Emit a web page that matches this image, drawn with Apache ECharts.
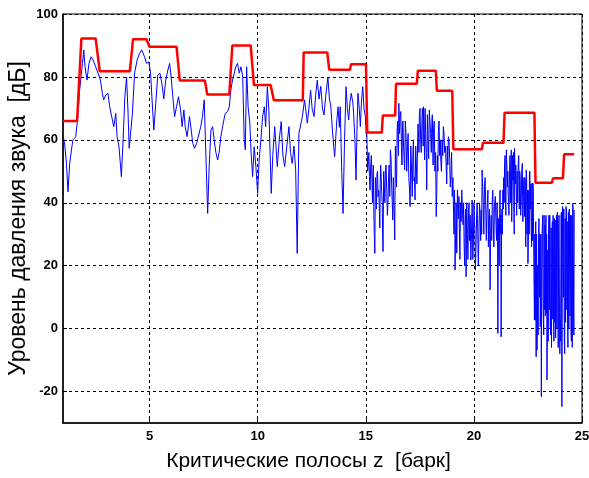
<!DOCTYPE html>
<html>
<head>
<meta charset="utf-8">
<script src="https://cdn.jsdelivr.net/npm/echarts@6/dist/echarts.min.js"></script>
<style>html,body{margin:0;padding:0;background:#fff;}#c{width:589px;height:478px;}</style>
</head>
<body>
<div id="c"></div>
<script>
// ---- data ----
const xTicks = [5, 10, 15, 20, 25];
const yTicks = [-20, 0, 20, 40, 60, 80, 100];

// masking threshold (red step line)
const threshZ = [1.00, 1.65, 1.85, 2.51, 2.70, 4.09, 4.24, 4.86, 5.00, 6.25, 6.40, 7.56, 7.67, 8.69, 8.83, 9.68, 9.83, 10.60, 10.75,
  12.09, 12.13, 13.22, 13.31, 14.27, 14.32, 15.01, 15.07, 15.74, 15.79, 16.36, 16.40, 17.36, 17.41, 18.24, 18.29, 19.00, 19.05,
  20.37, 20.42, 21.37, 21.42, 22.80, 22.85, 23.61, 23.66, 24.12, 24.17, 24.64];
const threshLevel = [66, 66, 92.2, 92.2, 81.8, 81.8, 92, 92, 89.6, 89.6, 78.9, 78.9, 74.4, 74.4, 90, 90, 77.4, 77.4, 72.6,
  72.6, 87.8, 87.8, 82.3, 82.3, 84, 84, 62.3, 62.3, 67.7, 67.7, 77.8, 77.8, 82, 82, 75.6, 75.6, 57,
  57, 59.1, 59.1, 68.6, 68.6, 46.4, 46.4, 47.8, 47.8, 55.4, 55.4];

// sound pressure level spectrum (blue), main samples
const specZ = [1.00,1.08,1.16,1.23,1.31,1.39,1.46,1.59,1.67,1.77,1.90,1.96,2.02,2.11,2.20,2.30,2.39,2.51,2.62,2.73,2.82,2.88,2.98,3.08,3.16,3.25,3.35,3.44,3.50,3.59,3.70,3.78,3.86,3.94,4.01,4.06,4.12,4.21,4.31,4.43,4.54,4.64,4.77,4.86,4.97,5.05,5.11,5.20,5.29,5.38,5.48,5.57,5.66,5.75,5.85,5.93,6.00,6.08,6.16,6.25,6.34,6.44,6.51,6.59,6.65,6.74,6.85,6.93,7.00,7.08,7.18,7.27,7.37,7.45,7.53,7.61,7.69,7.76,7.84,7.92,7.99,8.07,8.15,8.22,8.30,8.38,8.50,8.61,8.69,8.76,8.84,8.92,8.99,9.07,9.15,9.23,9.31,9.38,9.43,9.49,9.56,9.64,9.70,9.77,9.84,9.92,10.00,10.07,10.15,10.23,10.31,10.37,10.45,10.52,10.63,10.70,10.79,10.91,11.00,11.09,11.17,11.25,11.35,11.45,11.52,11.60,11.68,11.76,11.83,11.91,12.07,12.17,12.30,12.37,12.45,12.52,12.61,12.68,12.76,12.84,12.92,13.00,13.07,13.15,13.25,13.32,13.38,13.47,13.56,13.59,13.65,13.72,13.78,13.82,13.89,13.95,14.02,14.09,14.15,14.21,14.27,14.33,14.40,14.44,14.50,14.55,14.60,14.64,14.70,14.75,14.80,14.86,14.92,14.98,15.02,15.06,15.12,15.17,15.23,15.29,15.33,15.37,15.42,15.47,15.52,15.57,15.63,15.67,15.71,15.76,15.80,15.86,15.91,15.97,16.03,16.08,16.14,16.20,16.25,16.30,16.34,16.40,16.45,16.50,16.53,16.59,16.65,16.70,16.74,16.80,16.86,16.93,16.99,17.05,17.12,17.18,17.23,17.28,17.34,17.39,17.44,17.48,17.54,17.59,17.64,17.67,17.72,17.77,17.82,17.88,17.94,18.00,18.06,18.10,18.13,18.20,18.26,18.31,18.36,18.42,18.47,18.53,18.59,18.65,18.72,18.77,18.82,18.88,18.94,19.00,19.06,19.10,19.13,19.18,19.24,19.29,19.33,19.38,19.44,19.50,19.55,19.60,19.64,19.70,19.75,19.80,19.86,19.92,19.98,20.03,20.07,20.12,20.18,20.23,20.29,20.34,20.38,20.43,20.49,20.55,20.60,20.65,20.69,20.75,20.80,20.85,20.90,20.95,21.03,21.07,21.11,21.15,21.19,21.23,21.26,21.30,21.34,21.38,21.42,21.46,21.50,21.55,21.59,21.65,21.69,21.73,21.77,21.81,21.85,21.88,21.92,21.96,22.00,22.05,22.10,22.14,22.19,22.24,22.29,22.34,22.38,22.42,22.46,22.50,22.54,22.57,22.61,22.65,22.69,22.73,22.76,22.80,22.84,22.88,22.92,22.95,22.99,23.03,23.07,23.10,23.12,23.16,23.20,23.26,23.29,23.32,23.35,23.38,23.42,23.45,23.49,23.53,23.57,23.61,23.65,23.68,23.72,23.76,23.80,23.84,23.88,23.92,23.96,23.99,24.03,24.07,24.10,24.14,24.18,24.22,24.26,24.30,24.33,24.37,24.41,24.45,24.49,24.53,24.57,24.61,24.64];
const specLevel = [61.5,58.4,52.5,43.5,52.5,56.8,60,61,66.3,75.8,84.3,88.6,83.2,79,84.3,86.4,85.4,83.2,81.2,79,74.8,72.7,74.3,74.8,70.5,67.4,64.2,68.4,61,57.8,48.3,60,73.7,80,68.4,57.3,56.8,68.4,81.2,85.4,87.5,88.6,86.4,84.3,84.8,81.2,73.7,63.1,71.6,80.6,81.2,78,73,79,82.2,84.3,80,73.7,67.4,70.5,73.7,69.5,64.2,69.5,64.2,61,67.4,63.1,58.9,57.3,58.9,58.9,64.2,67.4,72.7,54.6,36.6,51.5,63.1,64.2,60,56,53.6,56,61,64.2,68.4,69,70.5,75.8,79,81.2,83.2,84.3,81.2,83.2,80,60,56.8,83.2,70.5,65.3,55.7,48.3,57.8,51.5,43,53.6,60,67.4,70.5,64.2,76.9,69.5,43,55,64.2,51.5,60,65.8,55,51.5,58,64.2,56,52.5,58,50.4,23.9,62.1,67.4,72.7,65.3,70,75.8,70,67.4,74,79,73,77,70,67.9,74,79.9,73,71.1,62,54.6,57.8,65,70.5,64,70.5,50,36.6,60,76.9,70,66.3,72,74.8,72,68.4,60,47.2,65,74.8,70,64.2,72,76.9,70,67.4,62,58.9,53,48.3,52,46.2,49,38.8,23.9,45,49.3,42,37.7,46,48.8,40,24.5,45,50.4,44,40.9,52,56.8,45,34.5,40,28.2,50,63.1,58,71.6,67.4,57.8,64,60,50.4,62,57.8,48,38.8,50,55.8,47,40.9,52,55.8,62,68.4,60,63.1,68,70.5,53.6,62,44.1,60,69.5,62,66.3,58,62.1,50,35.6,55,63.1,55,53.6,60,64.2,56,51.5,58,61,54,49.4,42,36.6,44,18.6,40,44.1,35,31.3,40,44.1,33,26,35,16.5,30,36.6,28,21.8,40.9,28.2,34,18.6,34.5,30,28.2,36,37.7,50.4,40,45.1,38,36.6,44,34.5,12.3,36,40.9,32,38.8,31.3,40,-1.5,35,36.6,30,-2.6,38,44.1,48,52.5,42,56.8,45,41.9,50.4,40,56.8,44,47.2,38,57.3,46,41.9,50,52.5,38,48.3,40,52.5,42,35.6,46,50.4,30,20.7,44,49,38,31.3,46.2,46.2,30.3,2.7,2.7,-9,-6.8,20,28.2,10,0.6,30,-21.6,31.3,8,11.2,33,31.3,5,-16.3,25,28.2,6,0.6,32,30.3,3,7,35,34.5,8,0,30,33.5,5,2.7,36,-24.8,38.8,10,-3.6,35,38.8,6,3.8,37,38,4,-1,36,39.8,5,37.7];

// additional in-between samples of the dense upper part of the spectrum
const denseZ = [15.04,15.09,15.145,15.20,15.26,15.31,15.35,15.395,15.445,15.495,15.545,15.60,15.65,15.69,15.735,15.78,15.83,15.885,15.94,16.00,16.055,16.11,16.17,16.225,16.275,16.32,16.37,16.425,16.475,16.515,16.56,16.62,16.675,16.72,16.77,16.83,16.895,16.96,17.02,17.085,17.15,17.205,17.255,17.31,17.365,17.415,17.46,17.51,17.565,17.615,17.655,17.695,17.745,17.795,17.85,17.91,17.97,18.03,18.08,18.115,18.165,18.23,18.285,18.335,18.39,18.445,18.50,18.56,18.62,18.685,18.745,18.795,18.85,18.91,18.97,
  19.03,19.08,19.115,19.155,19.21,19.265,19.31,19.355,19.41,19.47,19.525,19.575,19.62,19.67,19.725,19.775,19.83,19.89,19.95,20.005,20.05,20.095,20.15,20.205,20.26,20.315,20.36,20.405,20.46,20.52,20.575,20.625,20.67,20.72,20.775,20.825,20.875,20.925,20.99,21.05,21.09,21.13,21.17,21.21,21.245,21.28,21.32,21.36,21.40,21.44,21.48,21.525,21.57,21.62,21.67,21.71,21.75,21.79,21.83,21.865,21.90,21.94,21.98,22.025,22.075,22.12,22.165,22.215,22.265,22.315,22.36,22.40,22.44,22.48,22.52,22.555,22.59,22.63,22.67,22.71,22.745,22.78,
  22.82,22.86,22.90,22.935,22.97,23.01,23.05,23.085,23.11,23.14,23.18,23.23,23.245,23.275,23.305,23.335,23.365,23.40,23.435,23.47,23.51,23.55,23.59,23.63,23.665,23.70,23.74,23.78,23.82,23.86,23.90,23.94,23.975,24.01,24.05,24.085,24.12,24.16,24.20,24.24,24.28,24.315,24.35,24.39,24.43,24.47,24.51,24.55,24.59,24.625];
const denseLevel = [64,50,56,44,55,40,52,30,48,38,50,44,32,52,44,30,50,40,52,36,48,42,54,40,48,36,58,45,66,55,62,69,52,66,54,66,50,62,45,58,42,60,48,58,46,65,56,70,56,70,58,66,70,56,68,54,70,56,68,52,66,56,44,50,66,60,50,55,62,58,46,52,60,45,56,
  48,30,40,30,24,40,42,22,34,38,40,20,38,40,22,40,36,30,22,40,30,25,40,20,40,28,30,46,30,48,28,40,26,38,30,28,44,26,42,28,36,28,20,44,36,30,30,38,40,55,36,52,50,36,55,52,34,55,56,30,52,52,36,40,55,50,36,50,34,48,48,26,48,44,28,30,50,46,26,28,44,30,
  30,34,30,2,-2,35,30,8,5,18,36,-2,36,6,4,36,30,2,-4,36,36,-2,-6,34,36,-4,2,-3,36,37,-6,36,-8,-4,37,8,38,38,-8,2,38,34,-6,0,38,36,-4,-6,38,-2];

const specData = specZ.map((z, i) => [z, specLevel[i]])
  .concat(denseZ.map((z, i) => [z, denseLevel[i]]))
  .sort((a, b) => a[0] - b[0]);
const threshData = threshZ.map((z, i) => [z, threshLevel[i]]);

const chart = echarts.init(document.getElementById('c'), null, {renderer: 'canvas'});
const tickFont = {fontFamily: 'Liberation Sans', fontWeight: 'bold', fontSize: 13, color: '#000'};
const gridLine = {show: true, lineStyle: {color: '#000', type: [3, 3], width: 1}};
chart.setOption({
  animation: false,
  backgroundColor: '#fff',
  grid: {left: 63, right: 7, top: 14, bottom: 55, containLabel: false, outerBoundsMode: 'none',
    show: true, borderColor: '#000', borderWidth: 1, backgroundColor: '#fff'},
  xAxis: {
    type: 'value', min: 1, max: 25,
    name: 'Критические полосы z  [барк]', nameLocation: 'middle', nameGap: 28, nameMoveOverlap: false,
    nameTextStyle: {fontFamily: 'Liberation Sans', fontSize: 21, color: '#000', padding: [0, 28, 0, 0]},
    axisLine: {show: true, onZero: false, lineStyle: {color: '#000', width: 1.5}},
    axisTick: {show: true, inside: true, length: 4, customValues: xTicks, lineStyle: {color: '#000'}},
    axisLabel: Object.assign({customValues: xTicks, margin: 7}, tickFont),
    splitLine: gridLine
  },
  yAxis: {
    type: 'value', min: -30, max: 100,
    name: 'Уровень давления звука  [дБ]', nameLocation: 'middle', nameGap: 33, nameMoveOverlap: false,
    nameTextStyle: {fontFamily: 'Liberation Sans', fontSize: 23, color: '#000'},
    axisLine: {show: true, onZero: false, lineStyle: {color: '#000', width: 1.5}},
    axisTick: {show: true, inside: true, length: 4, customValues: yTicks, lineStyle: {color: '#000'}},
    axisLabel: Object.assign({customValues: yTicks, margin: 5}, tickFont),
    splitLine: gridLine
  },
  series: [
    {type: 'line', data: specData, symbol: 'none', lineStyle: {color: '#0000ff', width: 1}, z: 2},
    {type: 'line', data: threshData, symbol: 'none', lineStyle: {color: '#ff0000', width: 2.5}, z: 3}
  ]
});
</script>
</body>
</html>
